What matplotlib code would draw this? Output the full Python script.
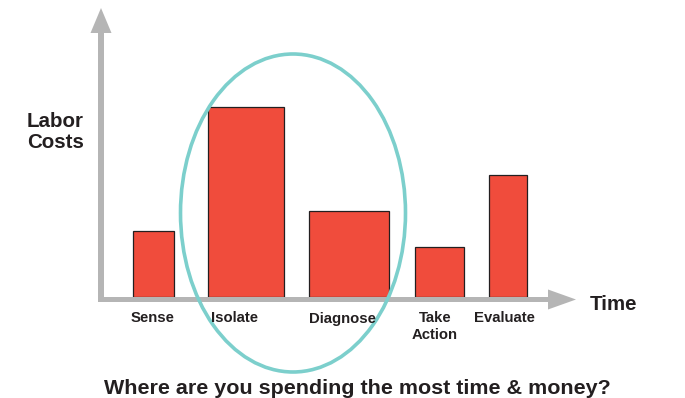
import matplotlib
matplotlib.use("Agg")
import matplotlib.pyplot as plt
from matplotlib.patches import Ellipse, FancyArrow

# ---- data ----
categories = ["Sense", "Isolate", "Diagnose", "Take\nAction", "Evaluate"]
labor_costs = [6.6, 19.0, 8.6, 5.0, 12.2]

# ---- layout (time-axis positions / widths) ----
bar_left = [3.2, 10.7, 20.8, 31.4, 38.8]
bar_width = [4.1, 7.6, 8.0, 4.9, 3.8]
label_x = [5.2, 13.3, 24.1, 33.4, 40.3]

RED = "#f04c3c"
GRAY = "#b5b5b5"
TEAL = "#7ccfcc"
INK = "#231f20"
FONT = "Liberation Sans"

W, H = 685, 398
fig = plt.figure(figsize=(W / 100, H / 100), dpi=100)
ox, oy = 101, 297  # pixel origin of the chart
ax = fig.add_axes([ox / W, (H - oy) / H, (W - ox) / W, oy / H])
ax.set_xlim(0, (W - ox) / 10)
ax.set_ylim(0, oy / 10)
ax.axis("off")

# axes arrows
ax.add_patch(FancyArrow(-0.3, -0.25, 47.8, 0, width=0.5, head_width=2.0,
                        head_length=2.8, length_includes_head=True,
                        color=GRAY, lw=0, clip_on=False, zorder=1))
ax.add_patch(FancyArrow(0, -0.5, 0, 29.4, width=0.6, head_width=2.1,
                        head_length=2.5, length_includes_head=True,
                        color=GRAY, lw=0, clip_on=False, zorder=1))

# bars
ax.bar(bar_left, labor_costs, width=bar_width, align="edge", color=RED,
       edgecolor=INK, linewidth=0.9, zorder=2)

# highlight ellipse
ax.add_patch(Ellipse((19.2, 8.4), 22.5, 31.8, fill=False, edgecolor=TEAL,
                     linewidth=2.6, clip_on=False, zorder=3))

# category labels
for x, lab in zip(label_x, categories):
    ax.text(x, -1.45, lab, ha="center", va="top", fontsize=10.7,
            fontweight="bold", family=FONT, color=INK, linespacing=1.25,
            clip_on=False)

# axis titles
ax.text(-7.4, 17.0, "Labor", ha="left", va="baseline", fontsize=14.8,
        fontweight="bold", family=FONT, color=INK, clip_on=False)
ax.text(-7.4, 14.9, "Costs", ha="left", va="baseline", fontsize=14.8,
        fontweight="bold", family=FONT, color=INK, clip_on=False)
ax.text(48.9, -1.3, "Time", ha="left", va="baseline", fontsize=14.8,
        fontweight="bold", family=FONT, color=INK, clip_on=False)

# bottom question
ax.text(25.65, -9.7, "Where are you spending the most time & money?",
        ha="center", va="baseline", fontsize=15.45, fontweight="bold",
        family=FONT, color=INK, clip_on=False)

fig.savefig("out.png", dpi=100)
